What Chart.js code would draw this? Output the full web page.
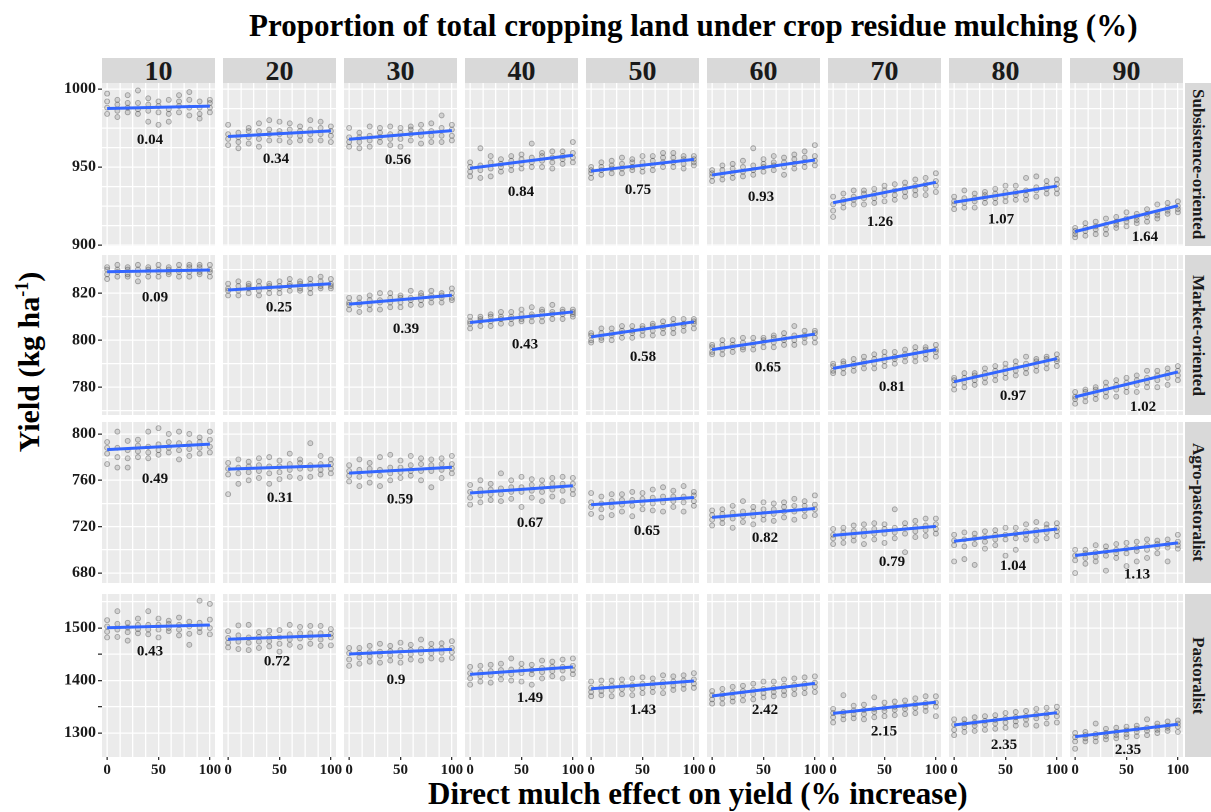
<!DOCTYPE html>
<html>
<head>
<meta charset="utf-8">
<script src="https://cdn.jsdelivr.net/npm/chart.js@4.4.0/dist/chart.umd.min.js"></script>
<style>
  body { margin: 0; background: #fff; }
  #page {
    position: relative; width: 1211px; height: 812px; overflow: hidden;
    font-family: "Liberation Serif", "Times New Roman", serif; font-weight: bold; color: #000;
  }
  #page canvas { position: absolute; }
  .strip {
    position: absolute; background: #d9d9d9; color: #1a1a1a;
    display: flex; align-items: center; justify-content: center; white-space: nowrap;
  }
  .strip.top { font-size: 28px; line-height: 25px; }
  .strip.side { font-size: 17px; writing-mode: vertical-rl; }
  .title { position: absolute; white-space: nowrap; }
</style>
</head>
<body>
<div id="page">
  <div class="title" id="topTitle" style="left:249px;top:10px;font-size:31px;line-height:31px;">Proportion of total cropping land under crop residue mulching (%)</div>
  <div class="title" id="xTitle" style="left:428px;top:778px;font-size:31px;line-height:31px;">Direct mulch effect on yield (% increase)</div>
  <div class="title" id="yTitle" style="left:29px;top:362px;font-size:30px;line-height:30px;transform:translate(-50%,-50%) rotate(-90deg);">Yield (kg ha<sup style="font-size:18px;line-height:0;">-1</sup>)</div>
</div>
<script>
// ============================================================
//  Faceted yield vs. direct mulch effect — 4 farm types x 9 mulching shares
// ============================================================

// --- facets ---
const FARM_TYPES = ["Subsistence-oriented", "Market-oriented", "Agro-pastoralist", "Pastoralist"];
const MULCH_SHARE = ["10", "20", "30", "40", "50", "60", "70", "80", "90"];

// --- x axis (direct mulch effect, %) ---
const X_EFFECT = [0, 10, 20, 30, 40, 50, 60, 70, 80, 90, 100];
const X_GRID = [0, 12.5, 25, 37.5, 50, 62.5, 75, 87.5, 100];
const X_TICK_LABELS = [0, 50, 100];

// --- y axis per farm type (kg/ha) ---
const Y_MIN = [899.4, 768.2, 671.4, 1254.3];
const Y_MAX = [1003.8, 836.2, 810.3, 1564.8];
const Y_GRID = [
  [900, 912.5, 925, 937.5, 950, 962.5, 975, 987.5, 1000],
  [770, 780, 790, 800, 810, 820, 830],
  [680, 700, 720, 740, 760, 780, 800],
  [1300, 1350, 1400, 1450, 1500, 1550]
];
const Y_TICK_LABELS = [[900, 950, 1000], [780, 800, 820], [680, 720, 760, 800], [1300, 1400, 1500]];
const Y_TICK_MARKS = [[900, 950, 1000], [780, 800, 820], [680, 720, 760, 800], [1300, 1350, 1400, 1450, 1500]];

// --- fitted line ends (yield at 0 % and 100 %) ---
const FIT_START = [
  [987.5, 969.5, 967.8, 949.2, 947.4, 944.9, 927.1, 927.4, 908.6],
  [829.1, 821.3, 815.3, 807.5, 801.4, 796.0, 788.0, 782.3, 775.9],
  [786.5, 769.6, 766.2, 749.0, 738.9, 728.0, 712.5, 707.4, 695.1],
  [1500.6, 1478.5, 1450.5, 1411.8, 1384.4, 1370.5, 1337.5, 1315.2, 1293.0]
];
const FIT_END = [
  [989.0, 973.1, 973.3, 957.5, 954.9, 954.5, 940.2, 937.8, 925.2],
  [829.8, 824.0, 819.1, 812.0, 807.8, 802.6, 796.0, 792.2, 786.5],
  [791.2, 772.7, 771.3, 755.3, 745.2, 735.7, 720.3, 718.0, 706.0],
  [1505.7, 1486.0, 1459.4, 1425.7, 1399.0, 1394.6, 1358.5, 1338.7, 1316.6]
];

// --- slope annotations (text, and where they sit in data units) ---
const SLOPE_TEXT = [
  ["0.04", "0.34", "0.56", "0.84", "0.75", "0.93", "1.26", "1.07", "1.64"],
  ["0.09", "0.25", "0.39", "0.43", "0.58", "0.65", "0.81", "0.97", "1.02"],
  ["0.49", "0.31", "0.59", "0.67", "0.65", "0.82", "0.79", "1.04", "1.13"],
  ["0.43", "0.72", "0.9", "1.49", "1.43", "2.42", "2.15", "2.35", "2.35"]
];
const SLOPE_AT_X = [
  [41.7, 46.6, 47.6, 49.5, 45.6, 47.6, 45.6, 45.6, 68],
  [46.6, 49.5, 55.4, 53.4, 50.5, 54.4, 57.3, 57.3, 66.1],
  [46.6, 50.5, 49.5, 58.3, 54.4, 51.5, 57.3, 57.3, 60.2],
  [41.7, 47.6, 45.6, 58.3, 50.5, 51.5, 49.5, 48.6, 51.5]
];
const SLOPE_AT_Y = [
  [967.3, 955.1, 954.5, 934.0, 935.3, 930.8, 914.7, 916.3, 905.1],
  [818.1, 813.9, 804.8, 798.2, 792.9, 788.4, 780.1, 776.3, 771.6],
  [761.0, 744.7, 743.2, 723.2, 716.0, 710.3, 689.4, 685.8, 678.7],
  [1454.9, 1435.8, 1401.0, 1366.1, 1343.8, 1343.8, 1302.5, 1277.1, 1267.6]
];

// --- simulated yields, one list per x value, per panel ---
const SUBSISTENCE_PTS = [
  [[984,988,992,997],[982,986,990,993],[985,988,991,996],[984,987,991,999],[979,986,990,994],[977,985,989,992],[979,984,987,993],[985,989,992,996],[983,988,993,998],[981,984,988,992],[985,988,991,993]],
  [[964,968,971,977],[962,966,969,972],[965,969,973,975],[963,968,973,978],[967,971,974,980],[967,971,973,979],[966,970,974,978],[967,970,973,976],[967,971,974,980],[967,971,975,979],[966,970,973,976]],
  [[963,966,969,975],[962,966,969,972],[963,967,970,976],[966,969,972,975],[964,968,971,976],[963,968,972,975],[967,971,974,976],[965,970,973,977],[966,970,973,978],[966,970,975,983],[967,970,974,977]],
  [[944,947,950,953],[943,948,951,962],[944,949,953,957],[947,950,952,955],[948,951,954,957],[949,952,955,958],[950,953,956,965],[950,954,957,959],[949,953,956,960],[952,955,957,960],[953,956,959,966]],
  [[943,946,948,950],[945,948,950,953],[946,949,951,954],[946,949,952,956],[948,950,953,955],[947,950,953,957],[948,951,954,957],[950,953,956,959],[950,953,956,959],[949,952,955,957],[951,953,955,957]],
  [[941,944,946,948],[942,945,948,951],[943,946,949,952],[944,947,950,954],[945,948,951,962],[947,950,952,955],[948,951,953,957],[945,950,953,956],[949,952,955,958],[950,953,956,960],[951,954,957,964]],
  [[918,922,926,931],[924,927,929,933],[926,929,931,935],[926,930,933,935],[927,930,933,936],[928,932,935,938],[929,932,935,939],[931,934,937,940],[932,935,938,942],[932,936,939,943],[934,938,941,946]],
  [[923,926,928,931],[924,927,930,935],[924,928,930,933],[927,930,932,934],[927,930,933,936],[928,931,934,938],[929,932,934,938],[929,932,935,943],[931,935,937,944],[933,936,938,941],[933,936,939,942]],
  [[905,907,909,911],[906,909,911,914],[907,910,912,915],[907,910,913,917],[911,913,915,918],[912,915,917,921],[914,916,918,920],[915,918,920,923],[917,919,921,926],[920,922,924,927],[921,923,925,928]]
];
const MARKET_PTS = [
  [[826,828,830,831],[827,829,830,832],[827,828,830,831],[825,828,830,832],[827,829,830,831],[827,829,830,832],[828,829,830,831],[827,829,830,832],[827,829,831,832],[828,829,831,832],[827,829,830,832]],
  [[819,821,822,824],[819,821,823,825],[820,822,823,824],[819,821,823,825],[820,822,823,824],[820,822,823,825],[821,823,824,826],[821,822,824,825],[820,822,824,826],[822,823,825,827],[822,823,824,826]],
  [[813,815,816,818],[812,815,816,818],[813,815,817,819],[813,816,817,820],[814,816,818,820],[814,816,818,819],[815,817,818,821],[815,817,819,820],[816,818,819,821],[816,818,819,820],[817,818,820,822]],
  [[805,807,808,810],[806,808,809,810],[806,808,810,811],[807,809,810,812],[807,809,810,812],[808,809,811,813],[808,810,811,814],[808,810,812,813],[809,811,812,815],[809,811,812,813],[810,811,812,813]],
  [[799,800,802,803],[800,801,803,805],[800,802,803,805],[801,803,804,806],[801,803,804,806],[802,804,805,806],[802,804,806,807],[803,805,806,808],[803,805,807,809],[804,806,807,809],[805,807,808,809]],
  [[794,795,797,798],[794,796,798,800],[795,797,798,800],[796,797,799,801],[796,798,799,801],[797,799,800,801],[797,799,801,802],[798,800,801,803],[798,800,802,806],[799,801,802,804],[799,801,803,804]],
  [[786,787,789,790],[786,788,790,791],[787,789,790,792],[788,790,791,793],[788,790,792,794],[789,791,793,795],[790,792,793,795],[791,793,794,796],[791,793,795,797],[792,794,796,797],[793,795,796,798]],
  [[779,781,783,784],[780,782,784,786],[781,783,785,786],[782,784,786,788],[783,785,787,789],[784,786,788,790],[785,787,789,791],[786,788,790,793],[787,789,791,792],[788,790,792,793],[789,791,792,794]],
  [[773,775,776,778],[774,776,778,779],[775,777,779,780],[776,778,780,782],[776,779,781,783],[778,780,782,784],[778,781,783,785],[780,782,784,787],[780,783,785,787],[781,784,786,788],[783,785,787,789]]
];
const AGRO_PTS = [
  [[774,783,788,793],[771,780,788,802],[771,779,786,794],[780,785,790,795],[779,784,789,802],[782,786,791,805],[784,788,793,800],[778,786,792,802],[781,787,792,800],[783,788,793,797],[784,789,795,802]],
  [[748,765,770,775],[757,766,771,778],[760,767,772,776],[762,768,773,779],[757,766,772,780],[761,767,772,777],[763,769,774,783],[762,770,775,778],[763,770,773,792],[765,769,774,781],[766,770,774,778]],
  [[759,764,768,773],[755,763,769,778],[758,765,770,775],[755,764,769,780],[760,766,771,782],[762,767,771,777],[764,768,773,781],[760,768,774,779],[754,768,773,778],[762,769,774,779],[766,770,774,781]],
  [[739,745,750,756],[741,747,752,760],[743,748,752,757],[742,748,753,766],[744,750,754,760],[737,750,754,763],[745,751,756,761],[742,750,755,760],[746,752,757,762],[742,751,757,763],[748,752,757,762]],
  [[731,737,741,749],[728,735,740,746],[730,737,742,748],[733,739,743,748],[729,738,743,750],[735,740,744,749],[734,740,745,752],[733,741,746,754],[737,742,746,751],[733,741,746,755],[738,742,747,750]],
  [[721,726,730,734],[723,727,731,735],[719,727,732,738],[724,729,733,742],[722,729,733,737],[726,730,735,741],[725,731,735,740],[728,733,737,741],[726,733,738,744],[729,734,738,742],[730,735,739,747]],
  [[705,710,713,718],[706,711,715,719],[708,712,716,721],[705,712,717,722],[709,714,718,723],[706,714,718,722],[710,715,719,735],[698,714,719,723],[711,716,720,725],[712,717,721,727],[714,718,722,727]],
  [[690,704,708,713],[692,703,709,715],[687,705,710,714],[701,707,711,716],[704,709,713,717],[695,709,713,719],[700,710,714,719],[709,713,716,722],[708,713,717,724],[710,715,719,722],[712,716,719,723]],
  [[680,691,695,700],[688,693,697,700],[690,694,698,704],[682,695,699,703],[693,697,700,705],[686,697,701,706],[690,699,702,707],[693,700,704,709],[697,702,705,708],[690,702,705,709],[701,704,707,713]]
];
const PASTORAL_PTS = [
  [[1482,1493,1503,1515],[1483,1497,1508,1532],[1476,1492,1501,1510],[1490,1498,1506,1518],[1488,1497,1506,1532],[1482,1497,1506,1518],[1494,1500,1508,1514],[1486,1497,1506,1520],[1468,1489,1503,1512],[1492,1500,1510,1552],[1488,1500,1516,1546]],
  [[1463,1472,1481,1494],[1460,1474,1486,1505],[1458,1472,1482,1506],[1462,1474,1483,1492],[1465,1475,1484,1495],[1455,1470,1482,1496],[1468,1478,1488,1506],[1464,1480,1490,1502],[1470,1482,1490,1504],[1466,1478,1490,1504],[1467,1482,1489,1498]],
  [[1428,1440,1452,1462],[1432,1444,1453,1462],[1436,1446,1454,1466],[1434,1447,1455,1470],[1438,1448,1456,1466],[1434,1446,1458,1472],[1440,1450,1458,1468],[1438,1452,1460,1478],[1442,1452,1460,1470],[1440,1453,1461,1471],[1443,1454,1462,1475]],
  [[1392,1404,1414,1426],[1398,1408,1416,1428],[1396,1410,1418,1430],[1402,1412,1420,1432],[1400,1412,1421,1442],[1398,1414,1422,1432],[1392,1412,1420,1430],[1404,1416,1424,1438],[1408,1418,1426,1436],[1404,1419,1426,1440],[1412,1420,1428,1442]],
  [[1370,1378,1386,1398],[1372,1380,1388,1400],[1370,1382,1390,1400],[1374,1384,1392,1402],[1372,1384,1391,1404],[1376,1386,1394,1406],[1378,1387,1395,1404],[1376,1388,1397,1410],[1382,1390,1398,1408],[1384,1392,1400,1410],[1386,1394,1402,1414]],
  [[1356,1364,1372,1380],[1356,1366,1374,1384],[1360,1368,1377,1388],[1362,1372,1380,1390],[1364,1374,1382,1394],[1368,1376,1384,1398],[1370,1378,1386,1398],[1372,1380,1390,1402],[1374,1384,1392,1404],[1376,1386,1394,1406],[1378,1388,1396,1408]],
  [[1320,1330,1338,1346],[1326,1334,1340,1372],[1328,1336,1343,1352],[1326,1336,1344,1354],[1330,1340,1346,1368],[1332,1342,1348,1358],[1334,1344,1350,1360],[1336,1346,1352,1362],[1338,1348,1355,1366],[1342,1350,1357,1370],[1332,1350,1358,1370]],
  [[1296,1306,1316,1326],[1302,1311,1318,1326],[1304,1314,1320,1330],[1306,1316,1323,1332],[1308,1318,1325,1334],[1310,1320,1328,1338],[1314,1322,1330,1340],[1316,1326,1332,1342],[1314,1328,1335,1346],[1318,1330,1337,1348],[1320,1332,1340,1350]],
  [[1270,1284,1292,1300],[1284,1290,1296,1302],[1284,1292,1298,1318],[1288,1294,1300,1308],[1290,1296,1302,1310],[1292,1298,1305,1312],[1294,1302,1308,1314],[1296,1304,1310,1326],[1300,1306,1312,1318],[1304,1310,1314,1322],[1302,1312,1318,1324]]
];
const POINTS = [SUBSISTENCE_PTS, MARKET_PTS, AGRO_PTS, PASTORAL_PTS];

(function () {
  "use strict";

  // --- layout (pixels) ---
  const PANEL_LEFT0 = 102, PANEL_STEP = 121, PANEL_W = 113;
  const ROW_TOP = [83, 255, 422, 594];
  const ROW_BOTTOM = [246, 415, 583, 757];
  const AXIS_W = 62, AXIS_H = 24, PAD = 12;
  const STRIP_TOP = 58, STRIP_H = 25, SIDE_LEFT = 1185, SIDE_W = 26;
  const SERIF = '"Liberation Serif", "Times New Roman", serif';
  const page = document.getElementById("page");

  // --- helpers ---
  const has = (list, v) => list.some((t) => Math.abs(t - v) < 1e-6);

  const panelBg = {
    id: "panelBg",
    beforeDraw(chart) {
      const a = chart.chartArea;
      const ctx = chart.ctx;
      ctx.save();
      ctx.fillStyle = "#ebebeb";
      ctx.fillRect(a.left, a.top, a.right - a.left, a.bottom - a.top);
      ctx.restore();
    },
  };

  const slopeText = {
    id: "slopeText",
    afterDatasetsDraw(chart, args, opts) {
      const ctx = chart.ctx;
      ctx.save();
      ctx.font = "bold 15px " + SERIF;
      ctx.fillStyle = "#111";
      ctx.textAlign = "center";
      ctx.textBaseline = "middle";
      ctx.fillText(opts.text, chart.scales.x.getPixelForValue(opts.x), chart.scales.y.getPixelForValue(opts.y));
      ctx.restore();
    },
  };

  // --- strips ---
  MULCH_SHARE.forEach((share, c) => {
    const d = document.createElement("div");
    d.className = "strip top";
    d.style.cssText = "left:" + (PANEL_LEFT0 + c * PANEL_STEP) + "px;top:" + STRIP_TOP + "px;width:" + PANEL_W + "px;height:" + STRIP_H + "px;";
    d.textContent = share;
    page.appendChild(d);
  });
  FARM_TYPES.forEach((farm, r) => {
    const d = document.createElement("div");
    d.className = "strip side";
    d.style.cssText = "left:" + SIDE_LEFT + "px;top:" + ROW_TOP[r] + "px;width:" + SIDE_W + "px;height:" + (ROW_BOTTOM[r] - ROW_TOP[r]) + "px;";
    d.textContent = farm;
    page.appendChild(d);
  });

  // --- panels ---
  FARM_TYPES.forEach((farm, r) => {
    MULCH_SHARE.forEach((share, c) => {
      const first = c === 0;
      const last = r === FARM_TYPES.length - 1;
      const padL = first ? AXIS_W : PAD;
      const padB = last ? AXIS_H + PAD : PAD;
      const panelH = ROW_BOTTOM[r] - ROW_TOP[r];
      const w = padL + PANEL_W + PAD;
      const h = PAD + panelH + padB;

      const cv = document.createElement("canvas");
      cv.width = w;
      cv.height = h;
      cv.style.left = (PANEL_LEFT0 + c * PANEL_STEP - padL) + "px";
      cv.style.top = (ROW_TOP[r] - PAD) + "px";
      cv.style.width = w + "px";
      cv.style.height = h + "px";
      page.appendChild(cv);

      const pts = [];
      POINTS[r][c].forEach((ys, i) => ys.forEach((y) => pts.push({ x: X_EFFECT[i], y: y })));

      new Chart(cv, {
        type: "scatter",
        data: {
          datasets: [
            {
              data: [{ x: 0, y: FIT_START[r][c] }, { x: 100, y: FIT_END[r][c] }],
              showLine: true,
              borderColor: "#3366ff",
              borderWidth: 3,
              pointRadius: 0,
              order: 0,
            },
            {
              data: pts,
              pointRadius: 2.5,
              pointBorderWidth: 0.9,
              backgroundColor: "rgba(70,70,70,0.16)",
              borderColor: "rgba(50,50,50,0.38)",
              order: 1,
            },
          ],
        },
        options: {
          responsive: false,
          animation: false,
          devicePixelRatio: 2,
          events: [],
          layout: { padding: { left: first ? 0 : PAD, right: PAD, top: PAD, bottom: PAD } },
          plugins: {
            legend: { display: false },
            tooltip: { enabled: false },
            slopeText: { text: SLOPE_TEXT[r][c], x: SLOPE_AT_X[r][c], y: SLOPE_AT_Y[r][c] },
          },
          scales: {
            x: {
              type: "linear",
              min: -5,
              max: 105,
              afterBuildTicks: (s) => { s.ticks = X_GRID.map((v) => ({ value: v })); },
              afterFit: (s) => { s.height = last ? AXIS_H : 0; },
              border: { display: false },
              grid: {
                color: "#ffffff",
                lineWidth: 1.3,
                drawTicks: last,
                tickLength: 3,
                tickColor: (ctx) => (ctx.tick && has(X_TICK_LABELS, ctx.tick.value) ? "#333" : "rgba(0,0,0,0)"),
              },
              ticks: {
                display: last,
                autoSkip: false,
                maxRotation: 0,
                padding: 1,
                color: "#1a1a1a",
                font: { family: SERIF, size: 15, weight: "bold" },
                callback: (v) => (has(X_TICK_LABELS, v) ? String(v) : ""),
              },
            },
            y: {
              type: "linear",
              min: Y_MIN[r],
              max: Y_MAX[r],
              afterBuildTicks: (s) => { s.ticks = Y_GRID[r].map((v) => ({ value: v })); },
              afterFit: (s) => { s.width = first ? AXIS_W : 0; },
              border: { display: false },
              grid: {
                color: "#ffffff",
                lineWidth: 1.3,
                drawTicks: first,
                tickLength: 4,
                tickColor: (ctx) => (ctx.tick && has(Y_TICK_MARKS[r], ctx.tick.value) ? "#333" : "rgba(0,0,0,0)"),
              },
              ticks: {
                display: first,
                autoSkip: false,
                padding: 2,
                color: "#1a1a1a",
                font: { family: SERIF, size: 16, weight: "bold" },
                callback: (v) => (has(Y_TICK_LABELS[r], v) ? String(v) : ""),
              },
            },
          },
        },
        plugins: [panelBg, slopeText],
      });
    });
  });
})();
</script>
</body>
</html>
